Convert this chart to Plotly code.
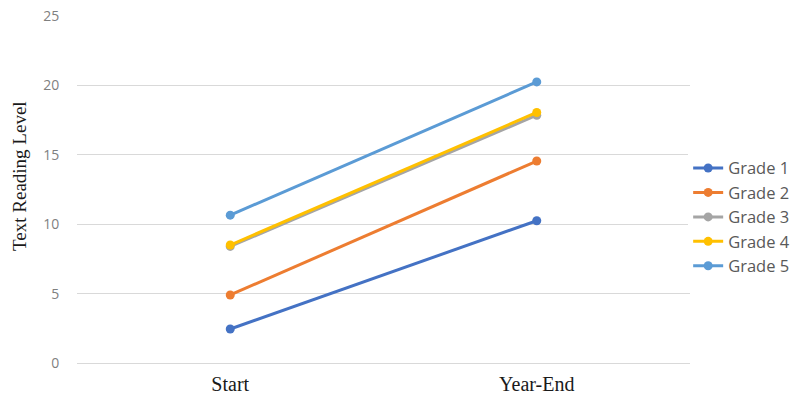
import plotly.graph_objects as go

categories = ["Start", "Year-End"]
series_names = ["Grade 1", "Grade 2", "Grade 3", "Grade 4", "Grade 5"]
grade1 = [2.45, 10.25]
grade2 = [4.9, 14.55]
grade3 = [8.4, 17.85]
grade4 = [8.5, 18.05]
grade5 = [10.65, 20.25]
colors = ["#4472C4", "#ED7D31", "#A5A5A5", "#FFC000", "#5B9BD5"]
y_ticks = [0, 5, 10, 15, 20, 25]

fig = go.Figure()
for name, vals, col in zip(series_names, [grade1, grade2, grade3, grade4, grade5], colors):
    fig.add_trace(go.Scatter(
        x=categories, y=vals, name=name, mode="lines+markers",
        line=dict(color=col, width=3),
        marker=dict(color=col, size=9),
    ))

fig.update_layout(
    width=796, height=398,
    margin=dict(l=77, r=106, t=16, b=35, autoexpand=False),
    paper_bgcolor="white", plot_bgcolor="white",
    showlegend=True,
    legend=dict(x=0.997, y=0.42, xanchor="left", yanchor="middle",
                font=dict(family="Open Sans", size=16.5, color="#595959"),
                tracegroupgap=0, itemwidth=30),
    xaxis=dict(type="category", range=[-0.5, 1.5], showgrid=False,
               showline=False, zeroline=False, automargin=False,
               tickfont=dict(family="Liberation Serif", size=20, color="#1a1a1a"),
               ticks="outside", ticklen=3, tickcolor="white"),
    yaxis=dict(range=[0, 25], tickvals=y_ticks, showgrid=True,
               gridcolor="#d9d9d9", gridwidth=1, zeroline=True,
               zerolinecolor="#d9d9d9", zerolinewidth=1, automargin=False,
               tickfont=dict(family="Open Sans", size=14, color="#7f7f7f"),
               ticks="outside", ticklen=14, tickcolor="white"),
    annotations=[dict(text="Text Reading Level", textangle=-90,
                      xref="paper", yref="paper", x=-0.093, y=0.539,
                      xanchor="center", yanchor="middle", showarrow=False,
                      font=dict(family="Liberation Serif", size=19, color="#1a1a1a"))],
)

fig.write_html("out.html")
